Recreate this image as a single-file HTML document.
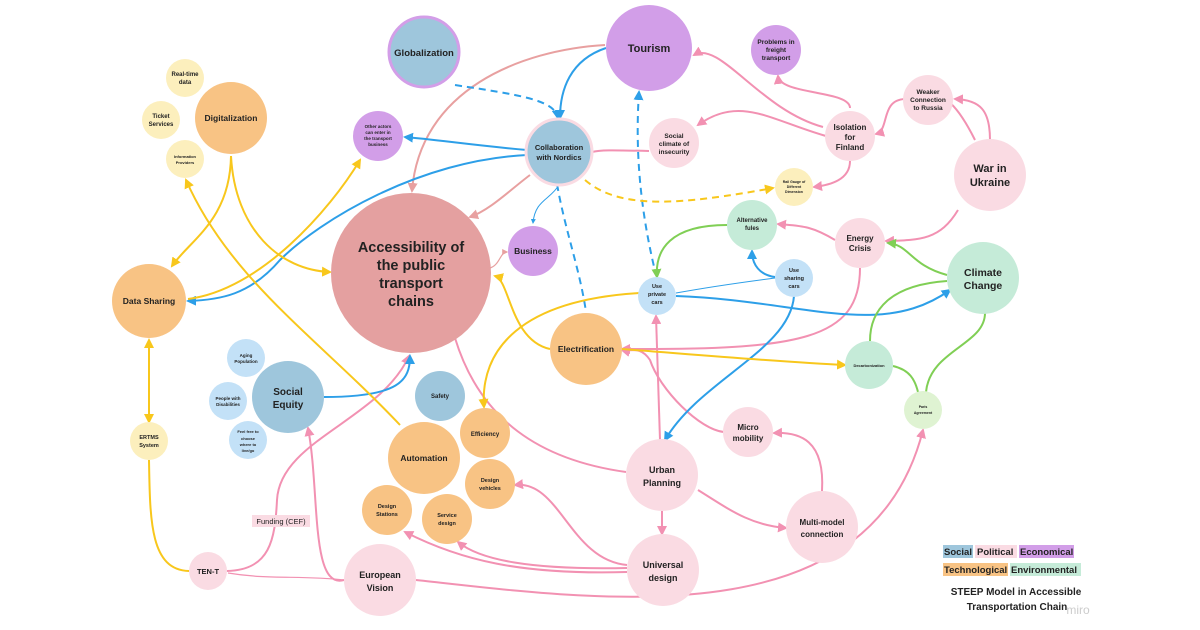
<!DOCTYPE html>
<html><head><meta charset="utf-8"><style>
html,body{margin:0;padding:0;background:#fff;}
svg{display:block;font-family:"Liberation Sans",sans-serif;}
text{fill:#222;font-weight:bold;text-anchor:middle;}
</style></head><body>
<svg width="1200" height="630" viewBox="0 0 1200 630" xmlns="http://www.w3.org/2000/svg">
<defs>
<marker id="ap" viewBox="0 0 10 10" refX="8" refY="5" markerWidth="5" markerHeight="5" orient="auto-start-reverse"><path d="M0,0L10,5L0,10z" fill="#f291b2"/></marker>
<marker id="ar" viewBox="0 0 10 10" refX="8" refY="5" markerWidth="5" markerHeight="5" orient="auto-start-reverse"><path d="M0,0L10,5L0,10z" fill="#e8a0a0"/></marker>
<marker id="ab" viewBox="0 0 10 10" refX="8" refY="5" markerWidth="5" markerHeight="5" orient="auto-start-reverse"><path d="M0,0L10,5L0,10z" fill="#2d9fe8"/></marker>
<marker id="ay" viewBox="0 0 10 10" refX="8" refY="5" markerWidth="5" markerHeight="5" orient="auto-start-reverse"><path d="M0,0L10,5L0,10z" fill="#f8c71c"/></marker>
<marker id="ag" viewBox="0 0 10 10" refX="8" refY="5" markerWidth="5" markerHeight="5" orient="auto-start-reverse"><path d="M0,0L10,5L0,10z" fill="#80cf55"/></marker>
</defs>
<g fill="none" stroke-width="2">
<g stroke="#f291b2" marker-end="url(#ap)">
<path d="M823,127 C760,110 720,40 694,55"/>
<path d="M850,108 C850,90 780,95 778,76"/>
<path d="M826,136 C770,120 740,95 698,125"/>
<path d="M975,140 C965,120 955,105 945,99" marker-end="none"/>
<path d="M990,140 C990,110 980,100 955,99"/>
<path d="M905,99 C880,100 890,130 876,134"/>
<path d="M850,161 C850,180 830,185 814,187"/>
<path d="M958,210 C940,240 920,240 886,241"/>
<path d="M835,240 C810,225 800,226 778,224"/>
<path d="M860,268 C860,340 800,350 622,349"/>
<path d="M649,151 C610,150 600,150 592,152" marker-end="none"/>
<path d="M724,432 C700,430 660,390 650,360 C640,345 630,352 622,350"/>
<path d="M660,440 L656,316"/>
<path d="M822,491 C825,440 800,432 774,433"/>
<path d="M698,490 C730,510 750,525 786,528"/>
<path d="M662,511 L662,534"/>
<path d="M627,565 C570,560 560,480 515,485"/>
<path d="M627,568 C530,570 480,560 458,542"/>
<path d="M627,572 C520,575 460,560 405,532"/>
<path d="M626,472 C540,460 480,420 455,338" marker-end="none"/>
<path d="M344,580 C310,590 320,490 308,428"/>
<path d="M227,571 C270,570 275,540 277,500 C280,440 380,420 409,356"/>
<path d="M416,580 C600,600 870,640 923,430"/>
<path d="M228,573 C270,580 300,575 344,580" stroke-width="1.2" marker-end="none"/>
</g>
<g stroke="#e8a0a0" marker-end="url(#ar)">
<path d="M605,45 C520,50 420,90 412,191"/>
<path d="M530,175 C510,190 490,210 470,217"/>
<path d="M490,268 C500,265 500,252 507,252" stroke-width="1.2"/>
</g>
<g stroke="#2d9fe8" marker-end="url(#ab)">
<path d="M606,48 C570,60 560,90 560,118"/>
<path d="M527,150 C470,145 440,140 405,137"/>
<path d="M527,155 C420,160 320,220 280,260 C250,295 220,300 188,301"/>
<path d="M324,397 C400,397 410,380 410,356"/>
<path d="M676,296 C800,300 880,340 950,290"/>
<path d="M794,296 C790,350 700,380 665,440"/>
<path d="M775,277 C760,275 752,265 752,251"/>
<path d="M676,293 C720,285 760,280 775,278" stroke-width="1" marker-end="none"/>
<path d="M559,185 C550,200 535,200 533,223" stroke-width="1"/>
<path d="M455,85 C520,95 555,100 558,118" stroke-dasharray="7,5"/>
<path d="M639,92 C635,150 640,210 656,275" stroke-dasharray="7,5" marker-start="url(#ab)" marker-end="none"/>
<path d="M557,184 C565,230 580,270 586,312" stroke-dasharray="7,5" marker-end="none"/>
</g>
<g stroke="#f8c71c" marker-end="url(#ay)">
<path d="M585,180 C620,210 680,205 773,188" stroke-dasharray="7,5"/>
<path d="M231,156 C230,220 190,240 172,266"/>
<path d="M231,156 C235,230 280,270 330,272"/>
<path d="M188,299 C260,290 330,210 360,160"/>
<path d="M400,425 C320,340 230,280 186,180"/>
<path d="M149,340 L149,422" marker-start="url(#ay)"/>
<path d="M149,460 C150,520 150,570 189,571" marker-end="none"/>
<path d="M550,349 C510,340 510,280 495,276"/>
<path d="M640,293 C520,300 480,350 484,407"/>
<path d="M622,349 C700,355 780,362 845,365"/>
</g>
<g stroke="#80cf55" marker-end="url(#ag)">
<path d="M727,225 C670,225 655,250 657,277"/>
<path d="M947,275 C910,265 910,245 888,243"/>
<path d="M947,281 C890,285 870,310 870,341" marker-end="none"/>
<path d="M893,366 C910,370 915,380 918,392" marker-end="none"/>
<path d="M926,392 C930,350 985,345 985,313" marker-end="none"/>
</g>
</g>
<g>
<circle cx="424" cy="52" r="35" fill="#9ec6dc" stroke="#d39ee8" stroke-width="3"/>
<circle cx="649" cy="48" r="43" fill="#d29ee8"/>
<circle cx="776" cy="50" r="25" fill="#d29ee8"/>
<circle cx="928" cy="100" r="25" fill="#fadbe3"/>
<circle cx="850" cy="136" r="25" fill="#fadbe3"/>
<circle cx="674" cy="143" r="25" fill="#fadbe3"/>
<circle cx="990" cy="175" r="36" fill="#fadbe3"/>
<circle cx="794" cy="187" r="19" fill="#fcefbd"/>
<circle cx="559" cy="152" r="33" fill="#9ec6dc" stroke="#fadbe3" stroke-width="3"/>
<circle cx="378" cy="136" r="25" fill="#d29ee8"/>
<circle cx="185" cy="78" r="19" fill="#fcefbd"/>
<circle cx="161" cy="120" r="19" fill="#fcefbd"/>
<circle cx="185" cy="159" r="19" fill="#fcefbd"/>
<circle cx="231" cy="118" r="36" fill="#f8c384"/>
<circle cx="752" cy="225" r="25" fill="#c5ebd8"/>
<circle cx="860" cy="243" r="25" fill="#fadbe3"/>
<circle cx="983" cy="278" r="36" fill="#c5ebd8"/>
<circle cx="411" cy="273" r="80" fill="#e4a0a0"/>
<circle cx="533" cy="251" r="25" fill="#d29ee8"/>
<circle cx="149" cy="301" r="37" fill="#f8c384"/>
<circle cx="657" cy="296" r="19" fill="#c3e1f7"/>
<circle cx="794" cy="278" r="19" fill="#c3e1f7"/>
<circle cx="586" cy="349" r="36" fill="#f8c384"/>
<circle cx="869" cy="365" r="24" fill="#c5ebd8"/>
<circle cx="923" cy="410" r="19" fill="#dff3d2"/>
<circle cx="246" cy="358" r="19" fill="#c3e1f7"/>
<circle cx="228" cy="401" r="19" fill="#c3e1f7"/>
<circle cx="248" cy="440" r="19" fill="#c3e1f7"/>
<circle cx="288" cy="397" r="36" fill="#9ec6dc"/>
<circle cx="440" cy="396" r="25" fill="#9ec6dc"/>
<circle cx="485" cy="433" r="25" fill="#f8c384"/>
<circle cx="424" cy="458" r="36" fill="#f8c384"/>
<circle cx="490" cy="484" r="25" fill="#f8c384"/>
<circle cx="387" cy="510" r="25" fill="#f8c384"/>
<circle cx="447" cy="519" r="25" fill="#f8c384"/>
<circle cx="149" cy="441" r="19" fill="#fcefbd"/>
<circle cx="748" cy="432" r="25" fill="#fadbe3"/>
<circle cx="662" cy="475" r="36" fill="#fadbe3"/>
<circle cx="822" cy="527" r="36" fill="#fadbe3"/>
<circle cx="663" cy="570" r="36" fill="#fadbe3"/>
<circle cx="380" cy="580" r="36" fill="#fadbe3"/>
<circle cx="208" cy="571" r="19" fill="#fadbe3"/>
</g>
<g>
<text x="424" y="56" font-size="9.5">Globalization</text>
<text x="649" y="52" font-size="11">Tourism</text>
<text font-size="6.5"><tspan x="776" y="44">Problems in</tspan><tspan x="776" y="52">freight</tspan><tspan x="776" y="60">transport</tspan></text>
<text font-size="6.5"><tspan x="928" y="94">Weaker</tspan><tspan x="928" y="102">Connection</tspan><tspan x="928" y="110">to Russia</tspan></text>
<text font-size="8"><tspan x="850" y="130">Isolation</tspan><tspan x="850" y="140">for</tspan><tspan x="850" y="150">Finland</tspan></text>
<text font-size="6.5"><tspan x="674" y="138">Social</tspan><tspan x="674" y="146">climate of</tspan><tspan x="674" y="154">insecurity</tspan></text>
<text font-size="11"><tspan x="990" y="172">War in</tspan><tspan x="990" y="186">Ukraine</tspan></text>
<text font-size="3.5"><tspan x="794" y="183">Rail Gauge of</tspan><tspan x="794" y="188">Different</tspan><tspan x="794" y="193">Dimension</tspan></text>
<text font-size="7.5"><tspan x="559" y="150">Collaboration</tspan><tspan x="559" y="160">with Nordics</tspan></text>
<text font-size="4.5"><tspan x="378" y="128">Other actors</tspan><tspan x="378" y="134">can enter in</tspan><tspan x="378" y="140">the transport</tspan><tspan x="378" y="146">business</tspan></text>
<text font-size="6"><tspan x="185" y="76">Real-time</tspan><tspan x="185" y="84">data</tspan></text>
<text font-size="6"><tspan x="161" y="118">Ticket</tspan><tspan x="161" y="126">Services</tspan></text>
<text font-size="4"><tspan x="185" y="158">Information</tspan><tspan x="185" y="164">Providers</tspan></text>
<text x="231" y="121" font-size="8.5">Digitalization</text>
<text font-size="6"><tspan x="752" y="222">Alternative</tspan><tspan x="752" y="230">fules</tspan></text>
<text font-size="8"><tspan x="860" y="241">Energy</tspan><tspan x="860" y="251">Crisis</tspan></text>
<text font-size="10.5"><tspan x="983" y="276">Climate</tspan><tspan x="983" y="289">Change</tspan></text>
<text font-size="14.5"><tspan x="411" y="252">Accessibility of</tspan><tspan x="411" y="270">the public</tspan><tspan x="411" y="288">transport</tspan><tspan x="411" y="306">chains</tspan></text>
<text x="533" y="254" font-size="8.5">Business</text>
<text x="149" y="304" font-size="8.5">Data Sharing</text>
<text font-size="5.5"><tspan x="657" y="288">Use</tspan><tspan x="657" y="296">private</tspan><tspan x="657" y="304">cars</tspan></text>
<text font-size="5.5"><tspan x="794" y="272">Use</tspan><tspan x="794" y="280">sharing</tspan><tspan x="794" y="288">cars</tspan></text>
<text x="586" y="352" font-size="8.5">Electrification</text>
<text x="869" y="367" font-size="4">Decarbonization</text>
<text font-size="3.5"><tspan x="923" y="408">Paris</tspan><tspan x="923" y="414">Agreement</tspan></text>
<text font-size="4.5"><tspan x="246" y="357">Aging</tspan><tspan x="246" y="363">Population</tspan></text>
<text font-size="4.5"><tspan x="228" y="400">People with</tspan><tspan x="228" y="406">Disabilities</tspan></text>
<text font-size="4"><tspan x="248" y="433">Feel free to</tspan><tspan x="248" y="440">choose</tspan><tspan x="248" y="446">where to</tspan><tspan x="248" y="452">live/go</tspan></text>
<text font-size="10"><tspan x="288" y="395">Social</tspan><tspan x="288" y="408">Equity</tspan></text>
<text x="440" y="398" font-size="6">Safety</text>
<text x="485" y="436" font-size="6">Efficiency</text>
<text x="424" y="461" font-size="8.5">Automation</text>
<text font-size="5.5"><tspan x="490" y="482">Design</tspan><tspan x="490" y="490">vehicles</tspan></text>
<text font-size="5.5"><tspan x="387" y="508">Design</tspan><tspan x="387" y="516">Stations</tspan></text>
<text font-size="5.5"><tspan x="447" y="517">Service</tspan><tspan x="447" y="525">design</tspan></text>
<text font-size="5.5"><tspan x="149" y="439">ERTMS</tspan><tspan x="149" y="447">System</tspan></text>
<text font-size="8"><tspan x="748" y="430">Micro</tspan><tspan x="748" y="441">mobility</tspan></text>
<text font-size="9"><tspan x="662" y="473">Urban</tspan><tspan x="662" y="486">Planning</tspan></text>
<text font-size="8"><tspan x="822" y="525">Multi-model</tspan><tspan x="822" y="537">connection</tspan></text>
<text font-size="9"><tspan x="663" y="568">Universal</tspan><tspan x="663" y="581">design</tspan></text>
<text font-size="9"><tspan x="380" y="578">European</tspan><tspan x="380" y="591">Vision</tspan></text>
<text x="208" y="574" font-size="7.5">TEN-T</text>
<rect x="252" y="515" width="58" height="12" fill="#fadbe3"/>
<text x="281" y="524" font-size="7.5" style="font-weight:normal">Funding (CEF)</text>
<rect x="943" y="545" width="30" height="13" fill="#9ec6dc"/>
<rect x="975" y="545" width="42" height="13" fill="#fadbe3"/>
<rect x="1019" y="545" width="55" height="13" fill="#d29ee8"/>
<rect x="943" y="563" width="65" height="13" fill="#f8c384"/>
<rect x="1010" y="563" width="71" height="13" fill="#c5ebd8"/>
<text font-size="9.5" style="text-anchor:start"><tspan x="944" y="555">Social</tspan><tspan x="977" y="555">Political</tspan><tspan x="1020" y="555">Economical</tspan></text>
<text font-size="9.5" style="text-anchor:start"><tspan x="944" y="573">Technological</tspan><tspan x="1011" y="573">Environmental</tspan></text>
<text font-size="10"><tspan x="1016" y="595">STEEP Model in Accessible</tspan><tspan x="1017" y="610">Transportation Chain</tspan></text>
<text x="1078" y="614" font-size="12" style="fill:#ccc;font-weight:normal">miro</text>
</g>
</svg>
</body></html>
